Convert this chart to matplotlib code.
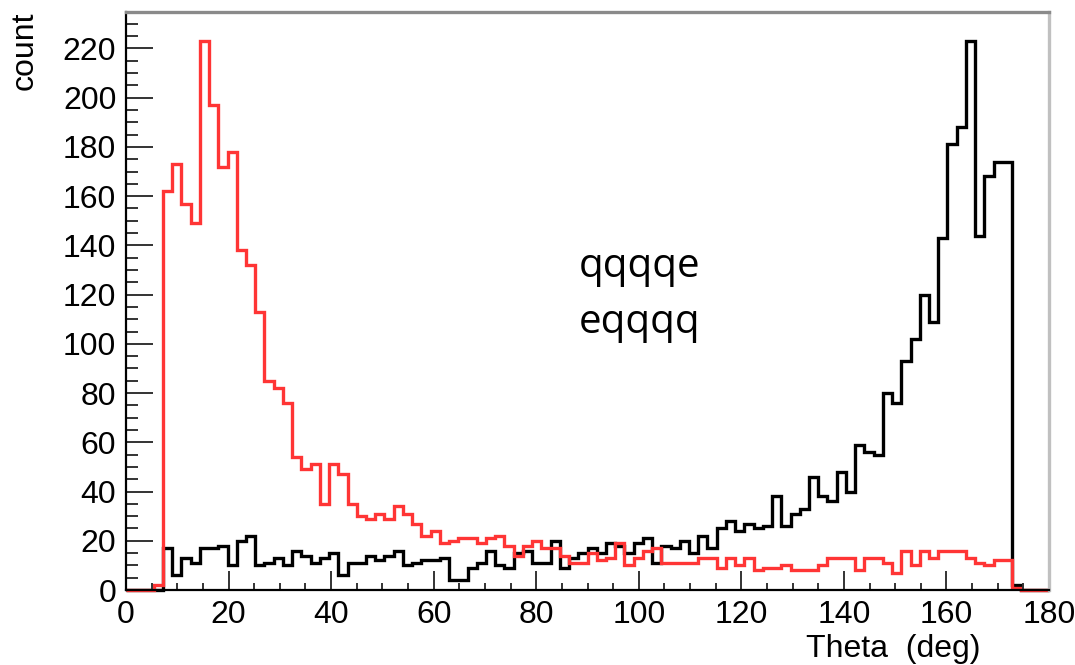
import matplotlib
matplotlib.use("Agg")
import matplotlib.pyplot as plt
import numpy as np

# 100 bins of 1.8 deg between 0 and 180
edges = np.linspace(0.0, 180.0, 101)
red_counts = [0, 0, 0, 2, 162, 173, 157, 149, 223, 197,
              172, 178, 138, 132, 113, 85, 82, 76, 54, 49,
              51, 35, 51, 47, 35, 30, 29, 31, 29, 34,
              31, 27, 22, 24, 19, 20, 21, 21, 19, 21,
              22, 18, 14, 18, 20, 17, 17, 14, 11, 11,
              15, 12, 13, 19, 10, 13, 16, 17, 11, 11,
              11, 11, 13, 13, 9, 13, 10, 13, 8, 9,
              9, 10, 8, 8, 8, 10, 13, 13, 13, 8,
              13, 13, 11, 7, 16, 10, 16, 13, 16, 16,
              16, 13, 11, 10, 12, 12, 1, 0, 0, 0]
black_counts = [0, 0, 0, 0, 17, 6, 13, 11, 17, 17,
                18, 10, 20, 22, 10, 11, 13, 10, 16, 14,
                11, 13, 15, 6, 11, 11, 14, 12, 14, 16,
                10, 11, 12, 12, 13, 4, 4, 9, 11, 16,
                10, 9, 15, 16, 11, 11, 20, 9, 13, 15,
                17, 15, 19, 18, 15, 19, 21, 11, 18, 17,
                20, 15, 22, 17, 25, 28, 24, 27, 25, 26,
                38, 26, 31, 33, 46, 38, 36, 48, 40, 59,
                56, 55, 80, 76, 93, 102, 120, 109, 143, 181,
                188, 223, 144, 168, 174, 174, 2, 0, 0, 0]
xticks = [0, 20, 40, 60, 80, 100, 120, 140, 160, 180]
yticks = [0, 20, 40, 60, 80, 100, 120, 140, 160, 180, 200, 220]

plt.rcParams["font.family"] = ["Liberation Sans", "DejaVu Sans"]
fig = plt.figure(figsize=(10.75, 6.65), dpi=100)
ax = fig.add_axes([126/1075, 75/665, (1049-126)/1075, (590-12)/665])

ax.stairs(black_counts, edges, color="black", linewidth=2.4, clip_on=False)
ax.stairs(red_counts, edges, color="#ff3535", linewidth=2.4, clip_on=False)

ax.set_xlim(0, 180)
ax.set_ylim(0, 234.8)
ax.set_xticks(xticks)
ax.set_yticks(yticks)
ax.set_xticks(np.arange(0, 181, 5), minor=True)
ax.set_yticks(np.arange(0, 231, 5), minor=True)
ax.tick_params(axis="y", which="major", direction="in", length=19.4, width=1.4,
               color="#333333", labelsize=23, pad=7)
ax.tick_params(axis="y", which="minor", direction="in", length=8.6, width=1.4,
               color="#333333")
ax.tick_params(axis="x", which="major", direction="in", length=13.7, width=1.4,
               color="#333333", labelsize=23, pad=7)
ax.tick_params(axis="x", which="minor", direction="in", length=5, width=1.4,
               color="#333333")

ax.spines["left"].set_linewidth(1.6)
ax.spines["bottom"].set_linewidth(1.6)
ax.spines["top"].set_color("#8a8a8a")
ax.spines["top"].set_linewidth(2.4)
ax.spines["right"].set_color("#c0c0c0")
ax.spines["right"].set_linewidth(2.4)

fig.text(980/1075, 8/665, "Theta  (deg)", fontsize=23, ha="right", va="baseline")
fig.text(25/1075, 1 - 12/665, "count", fontsize=23, rotation=90, ha="center", va="top")

ax.text(88.3, 127, "qqqqe", fontsize=29, family=["Open Sans", "DejaVu Sans"], va="baseline")
ax.text(88.3, 104.5, "eqqqq", fontsize=29, family=["Open Sans", "DejaVu Sans"], va="baseline")

fig.savefig("out.png", dpi=100)
